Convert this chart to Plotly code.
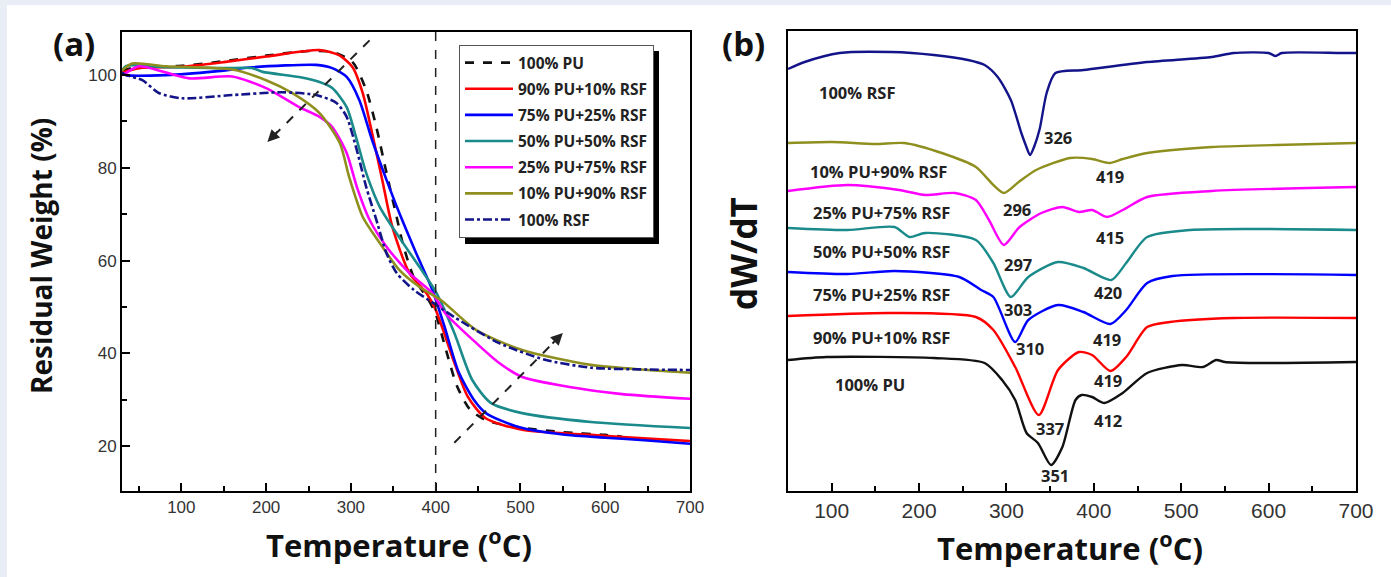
import plotly.graph_objects as go

# ---------------- Panel (a): TGA residual weight ----------------
T_pu100 = [30, 50, 100, 150, 200, 250, 278, 302, 318, 330, 342, 354, 361, 375, 390, 400, 411, 425, 440, 460, 500, 550, 600, 620]
W_pu100 = [101, 101.8, 102, 103, 104.2, 105.2, 105, 102.8, 96.8, 88.8, 78.9, 69.4, 63.8, 56, 52, 48.5, 41.5, 33, 28, 25.5, 24, 23, 22.4, 22]

T_pu90 = [30, 50, 100, 150, 200, 263, 286, 302, 314, 325, 337, 349, 369, 389, 400, 422, 438, 459, 502, 583, 650, 700]
W_pu90 = [100.5, 101.5, 101.8, 102.8, 104, 105.4, 104.3, 101.7, 96.1, 87.5, 77.4, 67.2, 57.3, 53, 49.4, 38, 30.6, 26, 23.5, 22.4, 21.6, 21.1]

T_pu75 = [30, 35, 82, 140, 184, 259, 278, 295, 310, 325, 342, 357, 377, 396, 410, 427, 445, 460, 500, 550, 600, 650, 700]
W_pu75 = [100.5, 100, 100, 100.8, 101.7, 102.2, 101.5, 99.6, 94.6, 86, 77.4, 70.3, 61.6, 53.7, 46, 36, 30, 27, 24, 22.5, 21.8, 21.2, 20.5]

T_pu50 = [30, 35, 82, 150, 184, 196, 239, 263, 278, 295, 307, 318, 334, 357, 381, 401, 422, 443, 465, 502, 583, 700]
W_pu50 = [101, 102, 101.7, 101.5, 101.5, 100.7, 99.6, 98.5, 97.2, 93.1, 86, 78.9, 71.6, 65, 58.6, 53, 44.4, 34.3, 29.3, 27.1, 25.2, 23.9]

T_pu25 = [30, 35, 50, 109, 160, 200, 239, 263, 278, 295, 307, 322, 342, 369, 396, 411, 448, 475, 502, 556, 620, 700]
W_pu25 = [100, 100.5, 101.9, 99.3, 99.7, 97.2, 93.1, 91, 88.8, 83.2, 75.9, 68.8, 63, 57.3, 53, 48.7, 42.2, 37.9, 34.9, 32.8, 31.2, 30.2]

T_pu10 = [30, 42, 82, 160, 200, 231, 263, 287, 298, 314, 334, 357, 381, 406, 448, 502, 583, 650, 700]
W_pu10 = [101, 102.5, 101.9, 101.2, 98.9, 96.1, 91.8, 85.3, 78, 69.4, 63.8, 58, 54.3, 51.5, 45, 40.7, 37.5, 36.4, 35.8]

T_rsf = [30, 35, 54, 74, 101, 160, 219, 259, 283, 295, 307, 318, 330, 342, 354, 374, 400, 422, 475, 529, 583, 650, 700]
W_rsf = [100.5, 100, 98.9, 96.1, 95, 95.7, 96.3, 95.7, 94, 91, 83.8, 75.9, 68.8, 61.6, 57.3, 53.7, 50.5, 47.8, 42.2, 38.6, 36.9, 36.5, 36.4]

names_a = ["100% PU", "90% PU+10% RSF", "75% PU+25% RSF", "50% PU+50% RSF",
           "25% PU+75% RSF", "10% PU+90% RSF", "100% RSF"]

# ---------------- Panel (b): DTG curves (offset, arbitrary units) ----------------
Tb_rsf = [50, 69, 109, 168, 217, 256, 275, 290, 305, 317, 322, 327, 332, 338, 346, 356, 388, 461, 535, 560, 600, 608, 615, 683, 700]
Vb_rsf = [422, 429, 438, 439, 436, 431, 426, 414, 391, 358, 346, 336, 345, 362, 398, 418, 421, 429, 434, 438, 438, 435, 438, 438, 438]

Tb_pu10 = [50, 100, 150, 183, 226, 265, 285, 297, 314, 334, 373, 398, 418, 433, 461, 535, 609, 700]
Vb_pu10 = [348, 349, 347, 348, 338, 324, 306, 298, 309, 321, 333, 332, 328, 332, 338, 344, 346, 348]

Tb_pu25 = [50, 118, 177, 207, 241, 265, 280, 297, 315, 340, 364, 383, 398, 415, 433, 461, 535, 700]
Vb_pu25 = [300, 306, 301, 296, 298, 291, 271, 246, 264, 278, 284, 279, 281, 274, 281, 294, 300, 304]

Tb_pu50 = [50, 118, 172, 189, 207, 265, 285, 305, 325, 359, 388, 420, 437, 461, 510, 700]
Vb_pu50 = [263, 261, 264, 254, 258, 251, 228, 194, 214, 229, 223, 211, 228, 254, 261, 261]

Tb_pu75 = [50, 118, 172, 246, 271, 285, 310, 325, 359, 388, 419, 437, 461, 490, 700]
Vb_pu75 = [219, 217, 220, 214, 201, 194, 149, 171, 186, 179, 167, 181, 208, 215, 216]

Tb_pu90 = [50, 168, 265, 285, 310, 337, 359, 383, 398, 419, 437, 461, 487, 560, 700]
Vb_pu90 = [175, 178, 174, 161, 124, 76, 121, 139, 136, 120, 134, 164, 169, 173, 173]

Tb_pu100 = [50, 94, 217, 275, 295, 310, 323, 336, 351, 364, 379, 386, 398, 412, 433, 461, 501, 525, 540, 550, 584, 700]
Vb_pu100 = [131, 134, 133, 128, 111, 91, 58, 48, 26, 44, 91, 96, 94, 88, 98, 118, 126, 124, 131, 129, 128, 129]

lab_text = ["100% RSF", "326", "10% PU+90% RSF", "419", "296", "25% PU+75% RSF", "415", "297",
            "50% PU+50% RSF", "420", "303", "75% PU+25% RSF", "310", "419", "90% PU+10% RSF",
            "419", "337", "412", "100% PU", "351"]
lab_T = [130, 359, 153, 419, 312, 157, 419, 313, 157, 416, 313, 157, 327, 415, 157, 416, 350, 416, 144, 356]
lab_V = [399, 354, 320, 315, 282, 279, 254, 227, 240, 199, 182, 197, 143, 152, 154, 111, 63, 71, 107, 16]

colors = ["#111111", "#ff0000", "#0000ff", "#1a8a8a", "#ff00ff", "#8f8f1f", "#14148a"]
dashes = ["dash", "solid", "solid", "solid", "solid", "solid", "dashdot"]

W, H = 1391, 577
def px(x): return x / W
def py(y): return 1 - y / H

BOLD = "Open Sans, sans-serif"

fig = go.Figure()

data_a = [(T_pu100, W_pu100), (T_pu90, W_pu90), (T_pu75, W_pu75), (T_pu50, W_pu50),
          (T_pu25, W_pu25), (T_pu10, W_pu10), (T_rsf, W_rsf)]
for i, (t, w) in enumerate(data_a):
    fig.add_trace(go.Scatter(
        x=t, y=w, mode="lines", name=names_a[i], legendgroup=str(i),
        line=dict(color=colors[i], width=2.6, dash=dashes[i], shape="spline", smoothing=0.7),
        xaxis="x", yaxis="y"))

data_b = [(Tb_rsf, Vb_rsf, 6), (Tb_pu10, Vb_pu10, 5), (Tb_pu25, Vb_pu25, 4), (Tb_pu50, Vb_pu50, 3),
          (Tb_pu75, Vb_pu75, 2), (Tb_pu90, Vb_pu90, 1), (Tb_pu100, Vb_pu100, 0)]
for t, v, ci in data_b:
    fig.add_trace(go.Scatter(
        x=t, y=v, mode="lines", showlegend=False,
        line=dict(color=colors[ci], width=2.4, shape="spline", smoothing=0.7),
        xaxis="x2", yaxis="y2"))

def axstyle(fs):
    return dict(showline=True, linecolor="black", linewidth=2, mirror=True, showgrid=False,
                zeroline=False, ticks="inside", ticklen=8, tickwidth=2, tickcolor="black",
                automargin=False,
                tickfont=dict(family="Liberation Sans, Arial, sans-serif", size=fs, color="#333333"))

minor = dict(ticks="inside", ticklen=5, tickwidth=2, tickcolor="black")

fig.update_layout(
    width=W, height=H, margin=dict(l=0, r=0, t=0, b=0, autoexpand=False),
    paper_bgcolor="white", plot_bgcolor="white",
    xaxis=dict(domain=[px(122), px(690)], range=[30, 700], dtick=100, tick0=0,
               minor=dict(dtick=50, **minor), anchor="y", **axstyle(17)),
    yaxis=dict(domain=[py(491), py(32)], range=[10.3, 109.3], dtick=20, tick0=0,
               minor=dict(dtick=10, **minor), anchor="x", **axstyle(17)),
    xaxis2=dict(domain=[px(788), px(1356)], range=[50, 700], dtick=100, tick0=0,
                minor=dict(dtick=50, **minor), anchor="y2", **axstyle(21)),
    yaxis2=dict(domain=[py(491), py(31)], range=[0, 460], showticklabels=False,
                anchor="x2", showline=True, linecolor="black", linewidth=2, mirror=True,
                showgrid=False, zeroline=False, ticks="", automargin=False),
    legend=dict(x=px(459), y=py(45), xanchor="left", yanchor="top",
                bgcolor="white", bordercolor="#555555", borderwidth=1,
                font=dict(family=BOLD, size=15.5, color="#222222", weight="bold"),
                tracegroupgap=3, traceorder="grouped", itemwidth=48),
    showlegend=True,
)

shapes = [
    dict(type="rect", xref="paper", yref="paper", x0=0, x1=px(7), y0=0, y1=1,
         fillcolor="#e8edf6", line=dict(width=0), layer="below"),
    dict(type="rect", xref="paper", yref="paper", x0=0, x1=1, y0=py(5), y1=1,
         fillcolor="#e8edf6", line=dict(width=0), layer="below"),
    dict(type="rect", xref="paper", yref="paper", x0=px(465), x1=px(659), y0=py(244), y1=py(51),
         fillcolor="black", line=dict(width=0), layer="above"),
    dict(type="line", xref="x", yref="y", x0=400, x1=400, y0=10.3, y1=109.3,
         line=dict(color="#222222", width=1.5, dash="dash")),
    dict(type="line", xref="x", yref="y", x0=322, y0=107.5, x1=204, y1=86,
         line=dict(color="#222222", width=2, dash="dash")),
    dict(type="line", xref="x", yref="y", x0=422, y0=20.7, x1=547, y1=43.8,
         line=dict(color="#222222", width=2, dash="dash")),
]
fig.update_layout(shapes=shapes)

ann = []
ann.append(dict(xref="x", yref="y", axref="x", ayref="y", x=201.5, y=85.6, ax=215, ay=88.1,
                text="", showarrow=True, arrowhead=2, arrowsize=1.2, arrowwidth=2, arrowcolor="#222222"))
ann.append(dict(xref="x", yref="y", axref="x", ayref="y", x=550, y=44.4, ax=536, ay=41.8,
                text="", showarrow=True, arrowhead=2, arrowsize=1.2, arrowwidth=2, arrowcolor="#222222"))

def tfont(s):
    return dict(family=BOLD, size=s, color="#111111", weight="bold")

def pann(x, y, text, size, angle=0):
    return dict(xref="paper", yref="paper", x=px(x), y=py(y), text=text, textangle=angle,
                showarrow=False, xanchor="center", yanchor="middle", font=tfont(size))

ann.append(pann(41, 256, "Residual Weight (%)", 28, -90))
ann.append(pann(399, 543, "Temperature (<sup>o</sup>C)", 31))
ann.append(pann(1070, 546, "Temperature (<sup>o</sup>C)", 31))
ann.append(pann(743, 254, "dW/dT", 35, -90))
ann.append(pann(74, 43, "(a)", 33))
ann.append(pann(743, 43, "(b)", 33))

for t, tx, v in zip(lab_text, lab_T, lab_V):
    ann.append(dict(xref="x2", yref="y2", x=tx, y=v, text=t, showarrow=False,
                    xanchor="center", yanchor="middle",
                    font=dict(family=BOLD, size=16.5, color="#222222", weight="bold")))

fig.update_layout(annotations=ann)

fig.write_html("out.html", config={"displayModeBar": False},
               post_script="document.body.style.margin='0';document.body.style.overflow='hidden';")
